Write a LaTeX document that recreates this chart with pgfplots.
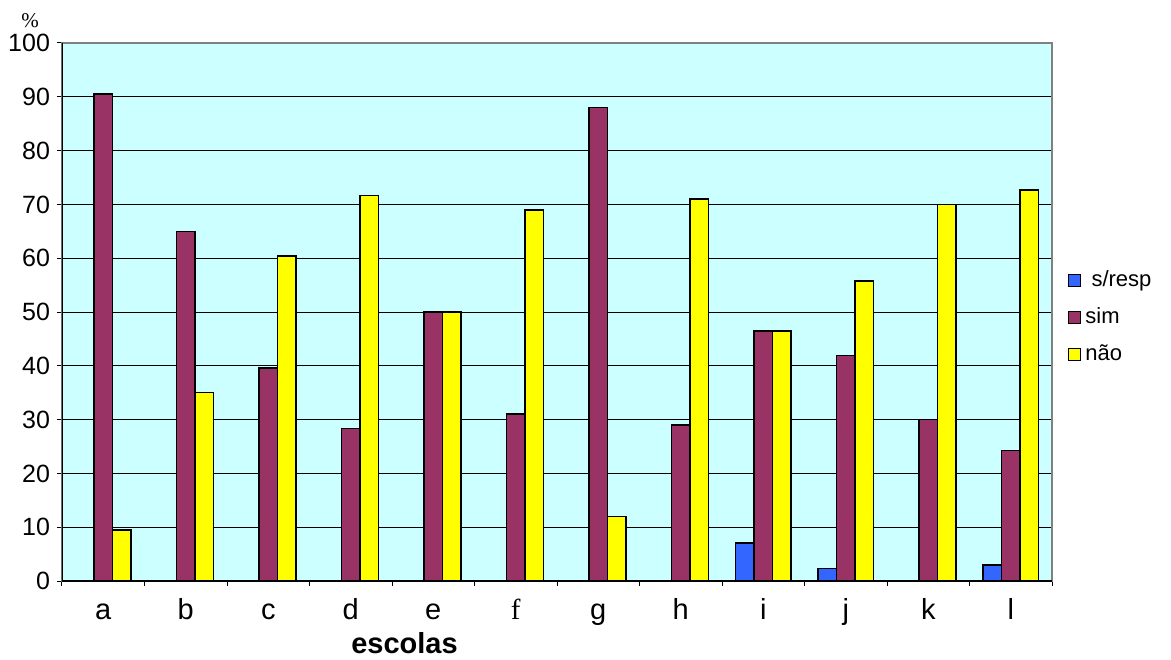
\documentclass[border=0pt]{standalone}
\usepackage{pgfplots}
\usepackage{pgfplotstable}
\pgfplotsset{compat=1.18}
\usepackage{fontspec}
\setmainfont{Liberation Sans}
\newfontfamily\seriffont{Liberation Serif}
\definecolor{bgc}{HTML}{CCFFFF}
\definecolor{simc}{HTML}{993366}
\definecolor{naoc}{HTML}{FFFF00}
\definecolor{respc}{HTML}{3366FF}
\pgfplotstableread{
x resp sim nao
0 0 90.5 9.5
1 0 65 35
2 0 39.6 60.4
3 0 28.3 71.7
4 0 50 50
5 0 31 69
6 0 88 12
7 0 29 71
8 7.1 46.45 46.45
9 2.3 41.9 55.8
10 0 30 70
11 3 24.3 72.7
}\datatable
\begin{document}
\begin{tikzpicture}
\begin{axis}[
  name=ax,
  scale only axis, width=495pt, height=269pt,
  ybar=0pt, bar width=9.25pt,
  xmin=-0.5, xmax=11.5, ymin=0, ymax=100,
  axis background/.style={fill=bgc},
  axis line style={draw=gray, line width=0.8pt},
  ytick={0,10,...,100},
  ytick pos=left, xtick pos=bottom,
  tick align=outside, major tick length=2.5pt,
  tick style={black, line width=0.5pt},
  xtick={-0.5,0.5,...,11.5},
  x tick label as interval,
  xticklabels={a,b,c,d,e,{\seriffont f},g,h,i,j,k,l},
  ymajorgrids, grid style={black, line width=0.5pt},
  /pgf/number format/assume math mode=true,
  yticklabel style={font=\fontsize{12.5}{15}\selectfont},
  xticklabel style={font=\fontsize{14.5}{17}\selectfont, anchor=base, yshift=-16.5pt},
  xlabel={\bfseries escolas},
  xlabel style={at={(axis description cs:0.346,0)}, anchor=center, yshift=-31pt, font=\fontsize{14.5}{17}\selectfont},
  legend style={at={(axis description cs:1,0.49)}, anchor=west, xshift=8pt, draw=none, fill=none, inner sep=0pt,
    font=\fontsize{11}{13}\selectfont, row sep=5pt},
  legend cell align=left,
  legend image code/.code={\draw[#1, line width=0.5pt] (0pt,-3pt) rectangle (6pt,3pt);},
]
\addplot[fill=respc, draw=black, line width=0.75pt] table[x=x, y=resp] {\datatable};
\addlegendentry{\ s/resp}
\addplot[fill=simc, draw=black, line width=0.75pt] table[x=x, y=sim] {\datatable};
\addlegendentry{sim}
\addplot[fill=naoc, draw=black, line width=0.75pt] table[x=x, y=nao] {\datatable};
\addlegendentry{não}
\draw[black, line width=0.8pt] (rel axis cs:0,1) -- (rel axis cs:0,0) -- (rel axis cs:1,0);
\end{axis}
\node[font=\seriffont\fontsize{10.5}{12}\selectfont] at ([xshift=-16pt,yshift=11pt]ax.north west) {\%};
\pgfresetboundingbox
\path ([xshift=-31pt,yshift=-39pt]ax.south west) rectangle ([xshift=59.5pt,yshift=21.5pt]ax.north east);
\end{tikzpicture}
\end{document}
